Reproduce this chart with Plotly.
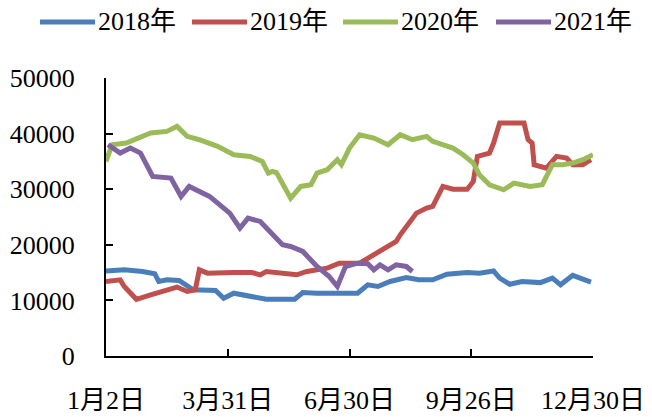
import plotly.graph_objects as go

# trading-day index (0 = 1月2日, 240 = 12月30日)
x2018 = [0, 9, 18, 24, 26, 30, 36, 40, 43, 54, 58, 63, 71, 79, 93, 97, 104, 116, 124, 129, 134, 140, 148, 154, 161, 168, 178, 184, 191, 194, 199, 205, 214, 220, 224, 230, 234, 237, 239]
y2018 = [15300, 15500, 15200, 14800, 13400, 13700, 13600, 12500, 11900, 11800, 10400, 11300, 10700, 10200, 10200, 11400, 11300, 11300, 11300, 12800, 12500, 13400, 14100, 13700, 13700, 14700, 15000, 14900, 15300, 14000, 12900, 13400, 13200, 14000, 12800, 14500, 13900, 13400, 13300]

x2019 = [0, 7, 9, 15, 22, 30, 35, 40, 44, 46, 50, 63, 72, 76, 79, 94, 99, 109, 115, 125, 132, 138, 143, 145, 148, 153, 158, 161, 166, 171, 178, 181, 183, 189, 191, 194, 206, 208, 210, 211, 217, 222, 227, 230, 235, 239]
y2019 = [13400, 13700, 12500, 10200, 11000, 11900, 12400, 11600, 11900, 15500, 14900, 15000, 15000, 14600, 15200, 14600, 15200, 15800, 16700, 16700, 18200, 19400, 20600, 21800, 23300, 25700, 26600, 26900, 30500, 30000, 30000, 31400, 35900, 36500, 38300, 41900, 41900, 38900, 38300, 34400, 33800, 35900, 35600, 34400, 34400, 35300]

x2020 = [0, 3, 10, 22, 30, 35, 40, 46, 55, 63, 71, 77, 80, 82, 84, 91, 96, 101, 104, 109, 114, 116, 120, 125, 132, 139, 145, 151, 158, 161, 171, 176, 181, 184, 189, 196, 201, 209, 215, 220, 225, 230, 235, 240]
y2020 = [35000, 38000, 38300, 40100, 40400, 41300, 39500, 38900, 37700, 36200, 35900, 35000, 32900, 33200, 33000, 28400, 30500, 30800, 32900, 33500, 35300, 34400, 37400, 39800, 39200, 38000, 39800, 38900, 39500, 38600, 37400, 36200, 34700, 32600, 30800, 29900, 31100, 30500, 30800, 34400, 34400, 34700, 35300, 36200]

x2021 = [1, 7, 12, 17, 23, 32, 37, 41, 51, 61, 66, 70, 76, 81, 87, 91, 97, 104, 110, 114, 118, 124, 129, 132, 135, 139, 143, 148, 151]
y2021 = [38000, 36500, 37400, 36500, 32300, 32000, 28700, 30500, 28700, 25700, 23000, 24800, 24200, 22400, 20000, 19700, 18800, 16100, 14300, 12500, 16100, 16700, 16600, 15500, 16400, 15500, 16400, 16100, 15200]

tick_vals = [0, 60, 120, 180, 240]
tick_text = ["1月2日", "3月31日", "6月30日", "9月26日", "12月30日"]

names = ["2018年", "2019年", "2020年", "2021年"]
colors = ["#4A7EBB", "#C0504D", "#9BBB59", "#8064A2"]

FONT = "Liberation Serif, Noto Sans CJK SC, serif"
FS = 26

W, H = 652, 417
L, R, T, B = 106, 59, 78, 61
PW, PH = W - L - R, H - T - B

def px(xp):
    return (xp - L) / PW

def py(yp):
    return (H - B - yp) / PH

fig = go.Figure()
for name, xs, ys, c in zip(names, [x2018, x2019, x2020, x2021],
                           [y2018, y2019, y2020, y2021], colors):
    fig.add_trace(go.Scatter(x=xs, y=ys, mode="lines", name=name,
                             line=dict(color=c, width=5), showlegend=False))

# custom legend (long line samples like the original)
sample_x = [40, 192, 343, 496]
sample_len = 55
leg_y = 22
for i, (name, c) in enumerate(zip(names, colors)):
    x0 = sample_x[i]
    fig.add_shape(type="line", xref="paper", yref="paper",
                  x0=px(x0), x1=px(x0 + sample_len), y0=py(leg_y), y1=py(leg_y),
                  line=dict(color=c, width=5))
    fig.add_annotation(xref="paper", yref="paper", x=px(x0 + sample_len + 1), y=py(leg_y),
                       xanchor="left", yanchor="middle", text=name, showarrow=False,
                       font=dict(family=FONT, size=FS, color="black"))

fig.update_layout(
    width=W, height=H,
    margin=dict(l=L, r=R, t=T, b=B, autoexpand=False),
    paper_bgcolor="white", plot_bgcolor="white",
    font=dict(family=FONT, size=FS, color="black"),
    showlegend=False,
    xaxis=dict(range=[0, 240], tickvals=tick_vals, ticktext=tick_text,
               showgrid=False, zeroline=False, showline=True, linecolor="black",
               linewidth=2, ticks="inside", ticklen=7, tickwidth=2, tickcolor="black",
               ticklabelstandoff=20, automargin=False),
    yaxis=dict(range=[0, 50000], dtick=10000, tickformat="d",
               showgrid=False, zeroline=False, showline=True, linecolor="black",
               linewidth=2, ticks="inside", ticklen=7, tickwidth=2, tickcolor="black",
               ticklabelstandoff=24, automargin=False),
)

fig.write_html("out.html")
